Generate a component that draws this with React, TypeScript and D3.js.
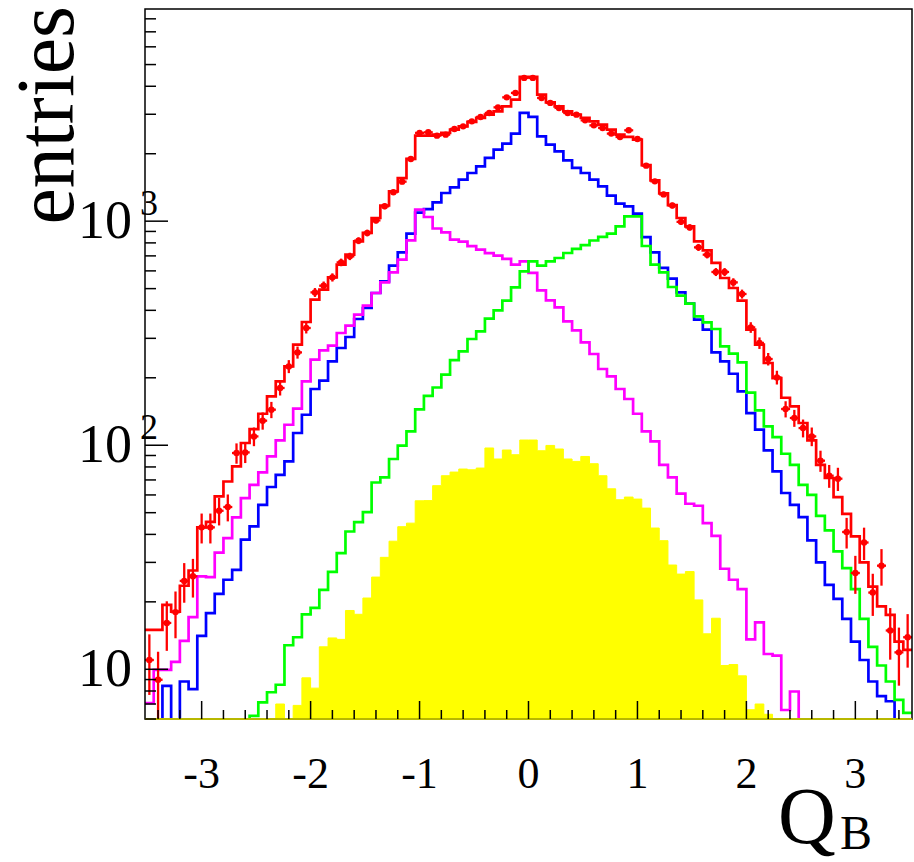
import React from "react";
import * as d3 from "d3";

// 88 bins of width 0.08 from -3.52 to 3.52
const binLow = -3.52;
const binWidth = 0.08;

const blueMC = [0,0,8.44,0,8.82,8.16,14.1,17.8,21.7,25.1,
27.8,37.9,43.4,54.2,65.1,73.8,84.7,113.4,136.8,178.2,
194.1,236.7,271.6,304.1,365.9,409.7,477.9,538.7,632.9,725.6,
879.5,1091,1131,1213,1336,1416,1532,1641,1757,1915,
2085,2218,2459,3041,2919,2392,2195,2049,1868,1729,
1641,1532,1430,1299,1197,1165,1080,848.5,725.6,618.2,
553.8,481,428.2,363.3,327.8,259.6,236.7,208.5,173.9,139.2,
117.3,94.8,76.4,61.2,54.2,47.8,37.6,30.0,23.8,20.6,
16.8,13.3,11.0,8.82,7.59,7.2,0,0];

const magentaMC = [7.06,9.95,9.95,10.8,13.4,17.1,26.0,25.8,33.2,38.5,
47.6,58.1,66.6,75.6,89.1,105.1,123.4,145.8,192.7,240.8,
265,278.1,316.9,341.6,382.4,419.5,477.9,533.1,590.8,673.2,
821,1125,1044,927.7,891.3,826.9,810.1,773.5,746.2,719.7,
701.5,678.2,639.5,661.5,587.3,491.1,443.0,412.2,357,325.5,
287.6,255.4,218.9,202.9,178.2,160.8,138.2,115.2,104,81.8,
71.8,60.8,54.8,53.7,44.9,39.4,28.1,25.1,22.8,13.6,
16.2,11.7,11.5,6.58,7.96,0,0,0,0,0,
0,0,0,0,0,0,0,0];

const greenMC = [0,0,0,0,0,0,0,0,0,0,
0,0,6.2,7.12,7.9,8.53,12.8,13.9,17.6,18.8,
22.6,27.2,33.0,41.2,45.4,50.3,68.2,71.8,86.8,99.5,
115.2,144.5,165.9,181,206.4,239.6,262.3,298,322.1,367,
399.6,441.7,506.3,597,661.5,632.9,661.5,685,721.1,751.5,
781.5,820,850.3,879.5,948,1051,1051,775,639.5,590.8,
508.5,465,428.2,375.8,353.4,330.2,276.1,256.2,234.2,171.6,
143,121.3,108.8,91.6,81.8,66.6,60.1,48.4,41.7,33.6,
28.3,22.8,16.8,12.6,10.4,8.82,7.31,6.39];

const yellowMC = [0,0,0,0,0,0,0,0,0,0,
0,0,0,0,0,7.0,0,6.9,9.16,8.24,
12.6,13.8,13.6,18.3,17.6,20.8,25.8,31.6,37.3,43.3,
44.9,56.5,56.6,66,73.1,75.9,78.3,77.7,79.1,97.2,
86.8,95.2,90.7,105.5,105.5,94.5,99.8,96.2,86.8,84.7,
89.1,82.7,73.1,63.9,57.1,58.7,57.5,52.4,42.7,37.5,
29.2,26.6,27.3,20.4,14.4,16.9,10.4,10.5,9.35,6.6,
7.0,6.3,0,0,0,0,0,0,0,0,
0,0,0,0,0,0,0,0];

const redTotal = [15.0,15.0,19.4,18.1,23.6,27.6,43.0,45.5,59.1,68.9,
80.4,102.3,118.1,138.2,165.1,192.7,224.8,281,354.8,446.2,
494.6,561.3,639.5,708.6,812.5,885.8,1033,1175,1358,1556,
1895,2408,2408,2433,2477,2562,2650,2773,2888,2988,
3092,3255,3487,4404,4404,3670,3392,3255,3092,2988,
2888,2790,2696,2562,2433,2376,2311,1778,1521,1331,
1179,1033,948,812.5,740.7,650.8,557.8,503.2,441.7,327.8,
281,232.8,199.5,162.9,149,125.7,105.1,81.8,71.4,58.7,
49.4,39.2,30.0,23.4,19.1,17.5,13.3,12.2];

const dataPoints = [11.0,8.98,16.1,18.0,24.8,26.0,43.0,43.0,51.0,53.0,
92.3,92.9,109.5,128.7,144.1,180.1,224.8,259.6,333.6,481,
515.2,561.3,654.9,696.5,818.4,885.8,1008,1165,1347,1501,
1895,2477,2492,2408,2433,2580,2650,2790,2919,3041,
3221,3570,3736,4359,4359,3548,3371,3202,3041,2988,
2818,2677,2607,2459,2376,2544,2328,1769,1506,1317,
1175,993,938,764,708.6,593.3,593.3,533.1,473.2,335.7,
285.9,242.5,200.8,145.1,132.3,119.3,109.5,85.3,73.1,70.9,
41.0,26.9,36.8,22.0,29.0,14.9,11.9,13.9];

const xTickLabels = [-3, -2, -1, 0, 1, 2, 3];
const yMajorTicks = [10, 100, 1000];
const yLabelExp = ["", "2", "3"];

const FONT = "'Liberation Serif', 'Times New Roman', serif";

export default function App() {
  const W = 914, H = 862;
  const L = 145, R = 912, T = 9, B = 719;
  const yMin = 6, yMax = 8850;
  const x = d3.scaleLinear().domain([binLow, binLow + binWidth * 88]).range([L, R]);
  const y = d3.scaleLog().domain([yMin, yMax]).range([B, T]);
  const yv = (v: number) => (v >= yMin ? y(v) : B + 2);

  const edges = d3.range(89).map((i) => binLow + i * binWidth);

  const stepPath = (vals: number[]) => {
    const pts: [number, number][] = vals.map((v, i) => [x(edges[i]), yv(v)]);
    pts.push([x(edges[vals.length]), yv(vals[vals.length - 1])]);
    return d3.line().curve(d3.curveStepAfter)(pts) as string;
  };
  const stepArea = (vals: number[]) => {
    const pts: [number, number][] = vals.map((v, i) => [x(edges[i]), yv(v)]);
    pts.push([x(edges[vals.length]), yv(vals[vals.length - 1])]);
    return d3
      .area<[number, number]>()
      .x((d) => d[0])
      .y0(B)
      .y1((d) => d[1])
      .curve(d3.curveStepAfter)(pts) as string;
  };

  const yMinor: number[] = [];
  for (const dec of [1, 10, 100, 1000]) {
    for (let k = 2; k <= 9; k++) {
      const v = dec * k;
      if (v >= yMin && v <= yMax) yMinor.push(v);
    }
  }

  const xMinor = d3.range(-17, 18).map((k) => k * 0.2).filter((v) => Math.abs(v - Math.round(v)) > 1e-6);

  const lw = 2.7;

  return (
    <svg width={W} height={H} style={{ display: "block", position: "absolute", left: 0, top: 0, background: "#fff" }}>
      <defs>
        <clipPath id="frame">
          <rect x={L} y={T} width={R - L} height={B - T + 1} />
        </clipPath>
      </defs>
      <rect x={0} y={0} width={W} height={H} fill="#fff" />
      <g clipPath="url(#frame)">
        <path d={stepArea(yellowMC)} fill="#ffff00" stroke="#ffff00" strokeWidth={1} />
        <path d={stepPath(blueMC)} fill="none" stroke="#0000ff" strokeWidth={lw} />
        <path d={stepPath(magentaMC)} fill="none" stroke="#ff00ff" strokeWidth={lw} />
        <path d={stepPath(greenMC)} fill="none" stroke="#00ff00" strokeWidth={lw} />
        <path d={stepPath(redTotal)} fill="none" stroke="#ff0000" strokeWidth={lw} />
        {dataPoints.map((v, i) => {
          const cx = x(edges[i] + binWidth / 2);
          const e = Math.sqrt(v);
          const y1 = y(v + e);
          const y2 = v - e > yMin ? y(v - e) : B + 2;
          return (
            <g key={i}>
              <line x1={cx} x2={cx} y1={y1} y2={y2} stroke="#ff0000" strokeWidth={2.3} />
              <line x1={cx - 4.5} x2={cx + 4.5} y1={y(v)} y2={y(v)} stroke="#ff0000" strokeWidth={2.3} />
              <circle cx={cx} cy={y(v)} r={3.2} fill="#ff0000" />
            </g>
          );
        })}
      </g>
      <rect x={L} y={T} width={R - L} height={B - T} fill="none" stroke="#000" strokeWidth={1.5} />
      <line x1={L} x2={R} y1={B} y2={B} stroke="#b8b800" strokeWidth={2} />
      {yMajorTicks.map((v) => (
        <line key={"ym" + v} x1={L} x2={L + 23} y1={y(v)} y2={y(v)} stroke="#000" strokeWidth={1.5} />
      ))}
      {yMinor.map((v) => (
        <line key={"yn" + v} x1={L} x2={L + 11} y1={y(v)} y2={y(v)} stroke="#000" strokeWidth={1.5} />
      ))}
      {xTickLabels.map((v) => (
        <line key={"xm" + v} x1={x(v)} x2={x(v)} y1={B} y2={B - 18} stroke="#000" strokeWidth={1.5} />
      ))}
      {xMinor.map((v) => (
        <line key={"xn" + v} x1={x(v)} x2={x(v)} y1={B} y2={B - 9} stroke="#000" strokeWidth={1.5} />
      ))}
      {xTickLabels.map((v) => (
        <text key={"xl" + v} x={x(v)} y={788} textAnchor="middle" fontFamily={FONT} fontSize={44} fill="#000">
          {v < 0 ? "-" + Math.abs(v) : String(v)}
        </text>
      ))}
      {yMajorTicks.map((v, i) => (
        <g key={"yl" + v}>
          <text x={132} y={y(v) + 17} textAnchor="end" fontFamily={FONT} fontSize={54} fill="#000">10</text>
          {yLabelExp[i] && (
            <text x={140} y={y(v) - 6} textAnchor="start" fontFamily={FONT} fontSize={36} fill="#000">{yLabelExp[i]}</text>
          )}
        </g>
      ))}
      <text transform={`translate(73,6) rotate(-90)`} textAnchor="end" fontFamily={FONT} fontSize={82} fill="#000">entries</text>
      <text x={778} y={843} fontFamily={FONT} fontSize={80} fill="#000">Q</text>
      <text x={840} y={849} fontFamily={FONT} fontSize={48} fill="#000">B</text>
    </svg>
  );
}
